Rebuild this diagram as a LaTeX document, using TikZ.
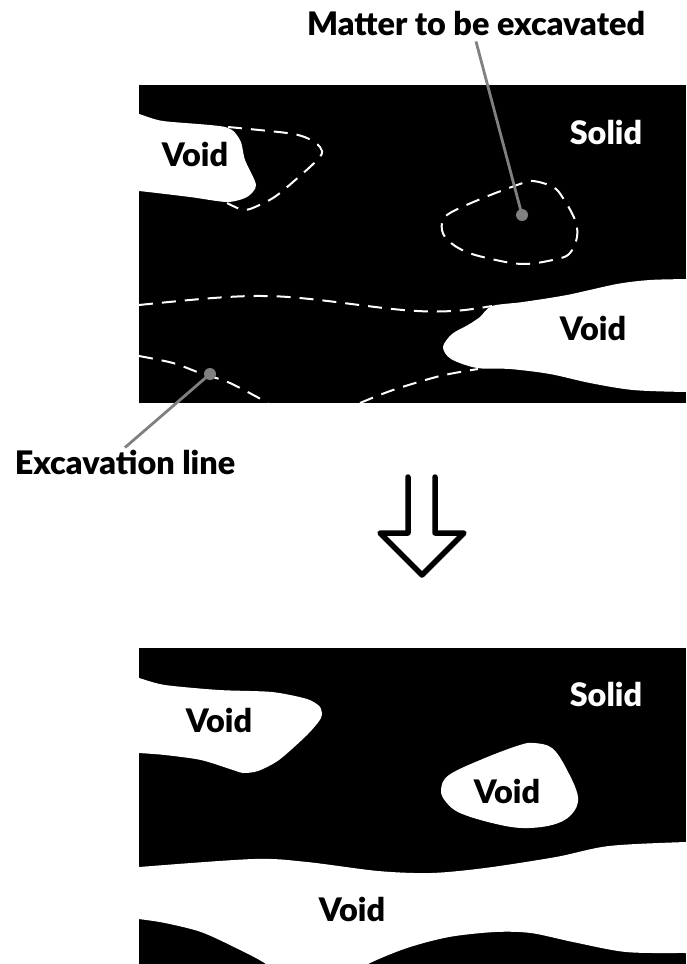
\documentclass[tikz,border=0pt]{standalone}
\usepackage{fontspec}
\setmainfont{Lato}[BoldFont={Lato Black}]
\usepackage{tikz}
\usetikzlibrary{arrows.meta,positioning}

\begin{document}
\begin{tikzpicture}[
  x=1pt, y=-1pt,
  font=\fontsize{32.4}{34}\selectfont\bfseries,
  lbl/.style = {inner sep=2pt, text=black},
  solidlbl/.style = {inner sep=2pt, text=white},
  voidarea/.style = {fill=white, draw=none},
  exline/.style = {draw=white, line width=2pt, dash pattern=on 14pt off 9pt},
  dotmark/.style = {circle, fill=black!50, inner sep=0pt, minimum size=12pt},
  leader/.style = {draw=black!50, line width=2.8pt},
  bigarrow/.style = {draw=black, line width=5.5pt, line cap=round, line join=round},
]
\useasboundingbox (0,0) rectangle (686,964);

% before excavation
\fill[black] (139,85) rectangle (686,403);
\begin{scope}
\clip (139,85) rectangle (686,403);
\path[voidarea] plot[smooth cycle, tension=0.45] coordinates {
  (120,110) (139,114) (163,121) (225,127) (240,140) (245,160) (256,185)
  (247,197) (227,202) (190,197) (139,191) (120,190)};
\path[voidarea] plot[smooth cycle, tension=0.5] coordinates {
  (720,278) (686,279) (650,280) (617,284) (567,295) (523,302) (492,306)
  (480,317) (468,325) (452,334) (443,347) (451,359) (477,368) (510,369)
  (550,374) (590,383) (633,390) (686,392) (720,392)};
\draw[exline] plot[smooth, tension=0.5] coordinates {
  (228,127) (287,133) (307,138) (320,147) (320,157) (293,182) (273,198)
  (250,209) (240,209) (227,203)};
\draw[exline] plot[smooth cycle, tension=0.6] coordinates {
  (520,184) (533,181) (553,187) (563,198) (575,220) (577,237) (570,253)
  (557,259) (523,264) (487,258) (462,250) (445,237) (442,223) (450,213)
  (483,198)};
\draw[exline] plot[smooth, tension=0.6] coordinates {
  (139,305) (213,298) (263,296) (310,299) (403,310) (453,311) (492,306)};
\draw[exline] plot[smooth, tension=0.5] coordinates {
  (139,356) (173,363) (200,373) (230,383) (268,403)};
\draw[exline] plot[smooth, tension=0.5] coordinates {
  (360,403) (393,390) (440,376) (478,369)};
\end{scope}

\node[lbl] at (195,154) (voidA) {Void};
\node[lbl] at (593,328) (voidB) {Void};
\node[solidlbl] at (606,132) (solidtop) {Solid};

% labels with their leaders
\node[lbl, inner ysep=5pt] at (476,24) (matterlbl) {Matter to be excavated};
\node[lbl] at (125,462) (linelbl) {Excavation line};
\node[dotmark] at (522,215) (matterdot) {};
\node[dotmark] at (210,374) (linedot) {};
\draw[leader] (matterlbl.south) -- (matterdot.center);
\draw[leader] (linelbl.north) -- (linedot.center);

% down arrow
\draw[bigarrow] (408,477) -- (408,533) -- (380,533) -- (422,575)
  -- (464,533) -- (435,533) -- (435,477);

% after excavation
\fill[black] (139,648) rectangle (686,964);
\begin{scope}
\clip (139,648) rectangle (686,964);
\path[voidarea] plot[smooth cycle, tension=0.45] coordinates {
  (120,672) (139,678) (165,685) (219,690) (272,692) (307,699) (320,707)
  (321,718) (307,735) (279,760) (258,771) (243,773) (233,770) (201,760)
  (165,755) (139,753) (120,752)};
\path[voidarea] plot[smooth cycle, tension=0.6] coordinates {
  (520,745) (534,743) (552,748) (566,768) (578,797) (571,815) (552,825)
  (522,828) (492,823) (460,813) (446,802) (441,790) (449,775) (485,758)};
\path[voidarea] plot[smooth cycle, tension=0.5] coordinates {
  (110,870) (139,867) (254,859) (307,862) (378,871) (431,873) (485,868)
  (556,857) (609,846) (686,842) (720,842) (720,953) (686,953) (626,952)
  (573,942) (531,933) (495,932) (449,937) (407,948) (368,964) (320,990)
  (290,985) (266,964) (236,948) (201,932) (165,923) (139,919) (110,915)};
\end{scope}

\node[lbl] at (219,720) (voidC) {Void};
\node[lbl] at (507,791) (voidD) {Void};
\node[lbl] at (352,909) (voidE) {Void};
\node[solidlbl] at (606,694) (solidbot) {Solid};
\end{tikzpicture}
\end{document}
